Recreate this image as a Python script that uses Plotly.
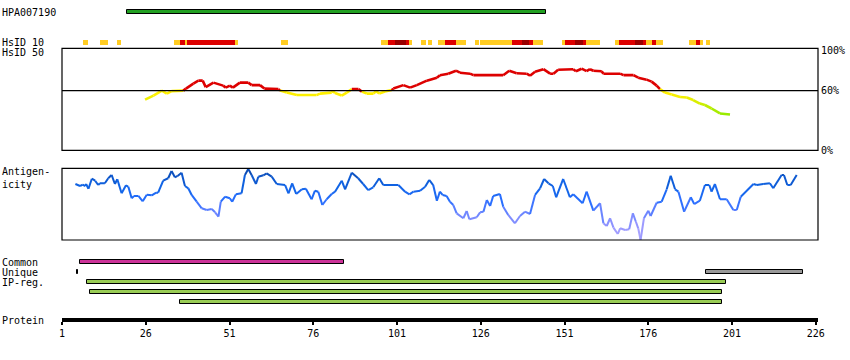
import plotly.graph_objects as go

# ---------------- data ----------------
hpa_name = "HPA007190"
hpa_start, hpa_end = 20.5, 145.5

# HsID 10 identity strip: start/end positions (residues) and level (1 low .. 3 high)
hs10_start = [7.2, 12.3, 17.4, 34.4, 36.2, 37.7, 38.3, 52.6, 66.4, 96.2, 98.3, 100.4, 103.7, 104.6,
              108.2, 110.3, 113.2, 115.3, 118.6, 124.3, 125.9, 135.3, 138.3, 140.4, 141.6, 150.3,
              151.1, 154.1, 156.5, 157.4, 166.1, 167.3, 172.0, 174.4, 175.3, 177.1, 178.3, 188.2,
              190.3, 191.4, 193.2]
hs10_end = [8.7, 14.6, 18.6, 36.2, 37.7, 38.3, 52.6, 53.4, 68.4, 98.3, 100.4, 103.7, 104.6, 105.5,
            109.7, 111.4, 115.3, 118.6, 121.6, 125.5, 135.3, 138.3, 140.4, 141.6, 144.6, 151.1,
            154.1, 156.5, 157.4, 161.6, 167.3, 172.0, 174.4, 175.3, 177.1, 178.3, 180.4, 190.3,
            191.4, 192.3, 194.4]
hs10_level = [1, 1, 1, 1, 2, 1, 2, 1, 1, 1, 2, 3, 2, 1, 1, 1, 1, 2, 1, 1, 1, 2, 3, 2, 1, 1, 2, 3, 2, 1,
              1, 2, 3, 2, 1, 2, 1, 1, 2, 1, 1]

# HsID 50 (% identity)
hsid_res = [25.8, 28.3, 30.8, 32.3, 33.7, 37.2, 38.0, 40.2, 41.7, 43.0, 43.9, 46.2, 49.1, 49.9, 51.1,
            52.0, 54.1, 56.6, 57.6, 60.1, 61.4, 65.6, 66.1, 68.1, 71.1, 77.0, 78.0, 81.5, 81.8, 82.5,
            84.5, 86.0, 87.5, 89.5, 90.5, 92.0, 94.0, 94.7, 95.7, 97.4, 99.4, 99.9, 102.9, 104.9,
            106.9, 109.9, 112.9, 113.8, 116.3, 118.6, 119.8, 122.8, 123.8, 132.7, 134.5, 136.7,
            139.7, 140.7, 142.2, 144.7, 146.7, 147.7, 149.1, 153.6, 154.4, 156.1, 157.6, 158.6,
            159.6, 162.1, 162.6, 167.6, 168.6, 171.6, 173.0, 175.5, 177.0, 178.5, 179.5, 181.0,
            183.0, 185.5, 187.5, 189.4, 191.4, 192.9, 194.9, 197.4, 200.4]
hsid_pct = [51, 55, 60, 57, 59.5, 60, 62, 67, 70, 70, 63.5, 68, 65, 63, 65, 63, 68, 68, 65.5, 65.5, 62,
            61.5, 60, 58, 55.5, 55.5, 57, 58, 59.5, 57.5, 55, 58, 61.5, 61.5, 59, 57, 57, 59.5, 57, 59,
            60.5, 62, 65.5, 63, 65.5, 70, 73, 75.5, 77, 80, 78, 77, 75.5, 75.5, 80, 77.5, 77, 75, 79,
            81.5, 77, 77, 81, 81.5, 79.5, 82, 79.5, 81.5, 80, 79.5, 77, 77, 75.5, 75.5, 73, 71, 69, 65,
            61.5, 58, 56, 53.5, 53, 50.5, 47, 45.5, 42, 37, 36]

# Antigenicity (relative score, 0-100 over panel height)
ant_res = [5.0, 6.4, 7.2, 7.9, 8.2, 8.9, 9.9, 10.9, 11.8, 12.3,
           13.8, 14.8, 15.8, 16.8, 17.5, 18.8, 20.1, 20.8, 21.8, 22.5,
           23.8, 25.1, 26.3, 27.8, 29.1, 29.7, 31.2, 32.7, 33.7, 34.7,
           35.5, 36.7, 37.7, 38.7, 39.7, 41.2, 42.7, 44.2, 45.7, 46.7,
           47.7, 48.4, 49.7, 51.1, 51.8, 52.9, 54.6, 55.6, 56.6, 57.6,
           58.9, 59.6, 61.1, 62.1, 63.6, 65.1, 67.6, 68.6, 69.7, 70.9,
           72.6, 73.8, 75.5, 76.5, 77.5, 78.7, 80.0, 81.5, 82.5, 84.5,
           85.5, 87.5, 89.4, 90.9, 92.4, 93.9, 95.7, 96.9, 101.4, 103.4,
           104.7, 105.9, 107.9, 109.4, 110.6, 111.8, 112.9, 113.8, 114.6, 115.8,
           116.8, 117.8, 118.8, 120.8, 121.8, 122.6, 124.8, 125.8, 126.8, 127.8,
           128.8, 129.7, 131.7, 132.7, 134.2, 136.2, 137.7, 139.2, 140.7, 142.2,
           143.7, 144.9, 146.2, 147.5, 148.5, 150.6, 152.6, 153.6, 156.4, 157.6,
           159.6, 161.6, 162.6, 163.6, 164.6, 165.6, 166.9, 167.6, 169.1, 170.3,
           171.4, 172.3, 173.0, 173.7, 174.7, 176.0, 176.7, 178.5, 180.0, 181.5,
           182.7, 184.0, 185.0, 186.7, 188.7, 189.7, 191.4, 192.9, 194.2, 194.9,
           195.9, 197.4, 199.4, 201.4, 202.4, 203.6, 207.4, 208.4, 210.3, 212.3,
           213.3, 215.8, 216.5, 217.5, 218.5, 220.3]
ant_val = [78.1, 75.3, 77.1, 75.3, 78.1, 71.5, 85.5, 82.7, 76.7, 79.1,
           79.1, 86.1, 90.7, 78.1, 84.7, 65.1, 76.3, 74.3, 58.2, 61.4,
           61.4, 54.0, 63.2, 62.3, 66.0, 66.0, 82.7, 86.1, 96.2, 87.4,
           89.3, 93.9, 75.3, 72.1, 62.8, 53.4, 44.2, 41.8, 43.2, 38.6,
           32.5, 53.4, 60.4, 58.2, 53.4, 63.7, 65.1, 90.7, 99.0, 90.7,
           78.1, 88.3, 90.2, 93.0, 88.3, 78.1, 76.7, 65.1, 79.1, 64.2,
           70.7, 71.5, 56.8, 68.8, 67.4, 48.8, 56.8, 64.2, 67.4, 82.7,
           70.7, 93.9, 86.1, 78.1, 69.7, 73.5, 86.1, 76.7, 76.7, 67.4,
           63.7, 67.4, 68.8, 74.3, 83.7, 76.7, 54.8, 67.4, 62.8, 61.4,
           53.4, 48.8, 37.2, 30.3, 40.4, 28.9, 31.7, 38.6, 39.5, 55.8,
           47.4, 61.4, 64.2, 46.4, 34.9, 23.3, 33.5, 39.5, 36.3, 62.8,
           72.1, 85.1, 79.1, 75.3, 59.6, 85.1, 59.6, 63.7, 51.2, 67.4,
           40.9, 51.2, 23.3, 19.5, 30.3, 17.2, 8.4, 16.3, 13.9, 14.9,
           37.2, 25.5, 16.3, 0, 30.3, 40.9, 33.5, 52.0, 53.4, 70.7,
           89.7, 70.7, 67.4, 39.5, 59.6, 50.2, 54.8, 76.7, 76.7, 67.4,
           78.1, 56.8, 56.8, 41.8, 41.8, 60.4, 78.1, 76.7, 78.1, 79.1,
           72.1, 90.7, 90.7, 76.7, 76.7, 90.7]

# Region bars
common_range = (6.5, 85.3)
unique_ranges = [(5.5, 5.85), (193.3, 222.3)]
unique_colors = ["#000000", "#999999"]
ipreg_ranges = [(8.55, 199.3), (9.45, 198.1), (36.3, 198.1)]

tick_vals = [1, 26, 51, 76, 101, 126, 151, 176, 201, 226]

# ---------------- styling helpers ----------------
W, H = 850, 360
FONT = "DejaVu Sans Mono"
X0_PX, X1_PX = 62, 818
XR = (1, 226.66)


def py(px):  # pixel row -> paper fraction
    return 1 - px / H


def lerp(c1, c2, t):
    return "rgb(%d,%d,%d)" % tuple(round(a + (b - a) * t) for a, b in zip(c1, c2))


def hsid_color(v):
    if v >= 60:
        return "#dd0000"
    t = min(max((56 - v) / 20, 0), 1)
    return lerp((255, 240, 0), (150, 235, 0), t)


ANT_STOPS = [(0, (178, 170, 255)), (20, (150, 150, 255)), (40, (100, 130, 255)),
             (55, (40, 110, 255)), (75, (16, 100, 230)), (100, (10, 70, 170))]


def ant_color(v):
    for (v0, c0), (v1, c1) in zip(ANT_STOPS[:-1], ANT_STOPS[1:]):
        if v <= v1:
            return lerp(c0, c1, (v - v0) / (v1 - v0))
    return lerp(ANT_STOPS[-1][1], ANT_STOPS[-1][1], 0)


fig = go.Figure()

# track rows (axis y, units of 10 px rows)
ROW_HPA, ROW_HS10 = 1.23, 4.23
ROW_COMMON, ROW_UNIQUE, ROW_IP = 26.23, 27.23, 28.23

fig.add_trace(go.Bar(y=[ROW_HPA], x=[hpa_end - hpa_start], base=[hpa_start], orientation="h",
                     width=0.42, marker=dict(color="#22a022", line=dict(color="black", width=1)),
                     xaxis="x", yaxis="y", showlegend=False, hoverinfo="skip"))

lvl_col = {1: "#ffcc22", 2: "#dd0000", 3: "#990000"}
fig.add_trace(go.Bar(y=[ROW_HS10] * len(hs10_start),
                     x=[e - s for s, e in zip(hs10_start, hs10_end)], base=hs10_start,
                     orientation="h", width=0.47,
                     marker=dict(color=[lvl_col[l] for l in hs10_level], line=dict(width=0)),
                     xaxis="x", yaxis="y", showlegend=False, hoverinfo="skip"))

fig.add_trace(go.Bar(y=[ROW_COMMON], x=[common_range[1] - common_range[0]], base=[common_range[0]],
                     orientation="h", width=0.42,
                     marker=dict(color="#cc3399", line=dict(color="black", width=1)),
                     xaxis="x", yaxis="y", showlegend=False, hoverinfo="skip"))
for (s, e), c in zip(unique_ranges, unique_colors):
    fig.add_trace(go.Bar(y=[ROW_UNIQUE], x=[e - s], base=[s], orientation="h", width=0.42,
                         marker=dict(color=c, line=dict(color="black", width=1)),
                         xaxis="x", yaxis="y", showlegend=False, hoverinfo="skip"))
for i, (s, e) in enumerate(ipreg_ranges):
    fig.add_trace(go.Bar(y=[ROW_IP + i], x=[e - s], base=[s], orientation="h", width=0.42,
                         marker=dict(color="#99cc55", line=dict(color="black", width=1)),
                         xaxis="x", yaxis="y", showlegend=False, hoverinfo="skip"))

# HsID 50 line, segment-coloured
for i in range(len(hsid_res) - 1):
    v = (hsid_pct[i] + hsid_pct[i + 1]) / 2
    fig.add_trace(go.Scatter(x=hsid_res[i:i + 2], y=hsid_pct[i:i + 2], mode="lines",
                             line=dict(color=hsid_color(v), width=2.6),
                             xaxis="x", yaxis="y2", showlegend=False, hoverinfo="skip"))

# Antigenicity line, segment-coloured
for i in range(len(ant_res) - 1):
    v = (ant_val[i] + ant_val[i + 1]) / 2
    fig.add_trace(go.Scatter(x=ant_res[i:i + 2], y=ant_val[i:i + 2], mode="lines",
                             line=dict(color=ant_color(v), width=2),
                             xaxis="x", yaxis="y3", showlegend=False, hoverinfo="skip"))

shapes = [
    dict(type="rect", xref="x domain", yref="y2 domain", x0=0, x1=1, y0=0, y1=1,
         line=dict(color="black", width=1.2)),
    dict(type="line", xref="x domain", yref="y2", x0=0, x1=1, y0=60, y1=60,
         line=dict(color="black", width=1.2)),
    dict(type="rect", xref="x domain", yref="y3 domain", x0=0, x1=1, y0=0, y1=1,
         line=dict(color="black", width=1.2)),
]

labels = [(hpa_name, 12.5), ("HsID 10", 42.5), ("HsID 50", 52.5), ("Antigen-<br>icity", 178),
          ("Common", 262.5), ("Unique", 272.5), ("IP-reg.", 282.5), ("Protein", 320)]
annotations = [dict(text=t, xref="paper", yref="paper", x=0, y=py(yy), xanchor="left",
                    yanchor="middle", align="left", showarrow=False, borderpad=0, xshift=1,
                    font=dict(family=FONT, size=10, color="black"))
               for t, yy in labels]

fig.update_layout(
    width=W, height=H, autosize=False,
    margin=dict(l=0, r=0, t=0, b=0, pad=0, autoexpand=False),
    paper_bgcolor="white", plot_bgcolor="white",
    barmode="overlay", bargap=0,
    font=dict(family=FONT, size=10, color="black"),
    xaxis=dict(domain=[X0_PX / W, X1_PX / W], range=list(XR), anchor="free", position=py(320),
               showline=True, linewidth=4, linecolor="black", ticks="outside", ticklen=3,
               tickwidth=2, tickcolor="black", tickvals=tick_vals, showgrid=False,
               zeroline=False, automargin=False, fixedrange=True,
               tickfont=dict(family=FONT, size=10, color="black")),
    yaxis=dict(domain=[0, 1], range=[36, 0], visible=False, fixedrange=True, automargin=False),
    yaxis2=dict(domain=[py(150.3), py(48.3)], range=[0, 102.5], anchor="x", side="right",
                showgrid=False, zeroline=False, showline=False, ticks="", automargin=False,
                fixedrange=True,
                tickvals=[0, 60, 100], ticktext=["0%", "60%", "100%"], ticklabelstandoff=2,
                tickfont=dict(family=FONT, size=10, color="black")),
    yaxis3=dict(domain=[py(240), py(168.3)], range=[0, 100], anchor="x", visible=False,
                automargin=False, fixedrange=True),
    shapes=shapes, annotations=annotations,
)

fig.write_html("out.html", config={"displayModeBar": False},
               post_script="document.body.style.margin='0px';")
